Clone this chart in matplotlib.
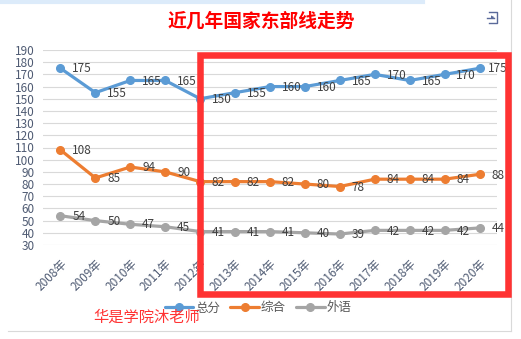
import matplotlib
matplotlib.use("Agg")
import matplotlib.pyplot as plt
from matplotlib.patches import Rectangle
from matplotlib.lines import Line2D

plt.rcParams['font.family'] = ['Noto Sans CJK SC', 'DejaVu Sans']

# data
years = ['2008年', '2009年', '2010年', '2011年', '2012年', '2013年', '2014年',
         '2015年', '2016年', '2017年', '2018年', '2019年', '2020年']
total = [175, 155, 165, 165, 150, 155, 160, 160, 165, 170, 165, 170, 175]
zonghe = [108, 85, 94, 90, 82, 82, 82, 80, 78, 84, 84, 84, 88]
waiyu = [54, 50, 47, 45, 41, 41, 41, 40, 39, 42, 42, 42, 44]
series_names = ['总分', '综合', '外语']
colors = ['#5B9BD5', '#ED7D31', '#A5A5A5']

W, H = 521, 339
fig = plt.figure(figsize=(W / 100, H / 100), dpi=100)
fig.patch.set_facecolor('white')
ax = fig.add_axes([43 / W, 1 - 245 / H, 454 / W, 195 / H])

x = list(range(len(years)))
for vals, name, c in zip([total, zonghe, waiyu], series_names, colors):
    ax.plot(x, vals, color=c, lw=2.3, marker='o', markersize=5.5,
            solid_capstyle='round', label=name, zorder=3)
    for xi, v in zip(x, vals):
        # 3-digit label on the last point is pulled in so it stays inside the plot
        dx = 6 if (xi == x[-1] and v >= 100) else 8.5
        ax.annotate(str(v), (xi, v), xytext=(dx, -0.5), textcoords='offset points',
                    ha='left', va='center', fontsize=8.5, color='#404040', zorder=4)

ax.set_xlim(-0.5, len(years) - 0.5)
ax.set_ylim(30, 190)
ax.set_yticks(range(30, 191, 10))
ax.set_xticks(x)
ax.set_xticklabels(years, rotation=45, ha='right', va='top', rotation_mode='anchor')
ax.tick_params(axis='both', length=0, labelsize=8.5, labelcolor='#4F5B73')
ax.tick_params(axis='x', pad=9)
ax.tick_params(axis='y', pad=6)
ax.grid(axis='y', color='#D9D9D9', lw=0.8, zorder=0)
ax.set_axisbelow(True)
for s in ax.spines.values():
    s.set_visible(False)

# title
fig.text(261 / W, 1 - 21 / H, '近几年国家东部线走势', ha='center', va='center',
         fontsize=13.5, fontweight='bold', color='#FF0000')

# legend
fig.legend(loc='center', bbox_to_anchor=(258 / W, 1 - 308 / H), ncol=3, frameon=False,
           fontsize=9, labelcolor='#595959', handlelength=2.3, handletextpad=0.15,
           columnspacing=0.8)

# watermark
fig.text(147 / W, 1 - 317 / H, '华是学院沐老师', ha='center', va='center',
         fontsize=11, color='#FF3333', zorder=10)

# red highlight box
fig.add_artist(Rectangle((200.3 / W, 1 - 293.7 / H), 307.4 / W, 239 / H,
                         transform=fig.transFigure, fill=False, lw=4.7,
                         edgecolor='#FF3333', zorder=20, joinstyle='miter'))

# chart frame bits
fig.add_artist(Line2D([0, 423 / W], [1 - 2 / H, 1 - 2 / H], transform=fig.transFigure,
                      color='#DCEBFA', lw=3))
fig.add_artist(Line2D([511 / W, 511 / W], [1 - 331 / H, 1], transform=fig.transFigure,
                      color='#D9D9D9', lw=0.8))
fig.add_artist(Line2D([8 / W, 511 / W], [1 - 331 / H, 1 - 331 / H], transform=fig.transFigure,
                      color='#D9D9D9', lw=0.8))

# export icon
ic = '#5A6A9A'
fig.add_artist(Line2D([489 / W, 497 / W, 497 / W, 489 / W],
                      [1 - 12 / H, 1 - 12 / H, 1 - 23 / H, 1 - 23 / H],
                      transform=fig.transFigure, color=ic, lw=1))
fig.add_artist(Line2D([487 / W, 494 / W], [1 - 17.5 / H, 1 - 17.5 / H],
                      transform=fig.transFigure, color=ic, lw=1))
fig.text(493 / W, 1 - 17.5 / H, '▸', ha='center', va='center', fontsize=5, color=ic,
         family=['DejaVu Sans'])

fig.savefig('out.png', dpi=100)
